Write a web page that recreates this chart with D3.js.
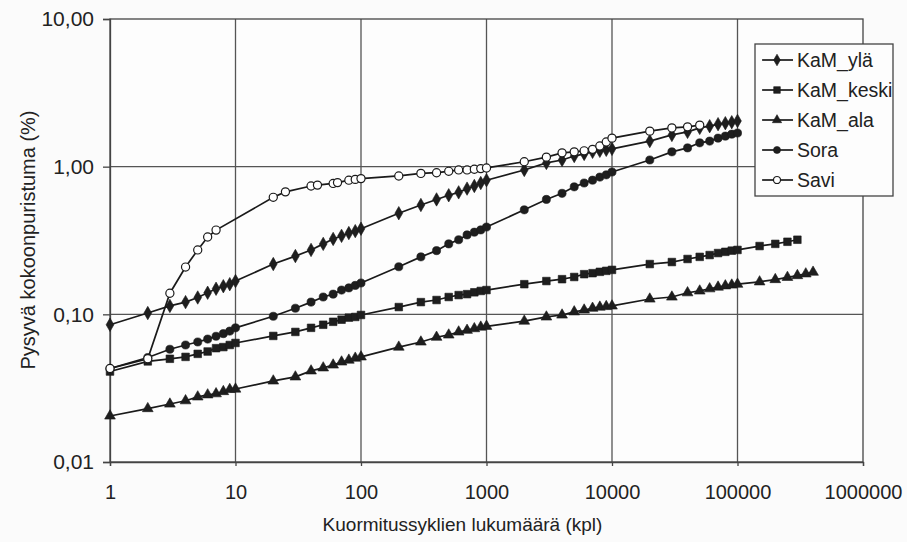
<!DOCTYPE html>
<html><head><meta charset="utf-8">
<script src="https://cdn.jsdelivr.net/npm/d3@7"></script>
<style>
html,body{margin:0;padding:0;background:#fbfbfb;}
text{font-family:"Liberation Sans",Arial,sans-serif;fill:#222;}
</style></head>
<body>
<svg id="chart" width="907" height="542"></svg>
<script>
// ---- data ----
const cyclesMain = [1,2,3,4,5,6,7,8,9,10,20,30,40,50,60,70,80,90,100,200,300,400,500,600,700,800,900,1000,2000,3000,4000,5000,6000,7000,8000,9000,10000,20000,30000,40000,50000,60000,70000,80000,90000,100000];
const cyclesKeski = cyclesMain.concat([150000,200000,250000,300000]);
const cyclesAla = cyclesMain.concat([150000,200000,250000,300000,350000,400000]);
const cyclesSavi = [1,2,3,4,5,6,7,20,25,40,45,60,65,80,90,100,200,300,400,500,600,700,800,900,1000,2000,3000,4000,5000,6000,7000,8000,9000,10000,20000,30000,40000,50000];

const kamYla = [0.085,0.102,0.114,0.121,0.130,0.140,0.149,0.155,0.160,0.168,0.219,0.248,0.273,0.300,0.324,0.340,0.355,0.366,0.380,0.484,0.550,0.600,0.640,0.670,0.710,0.740,0.775,0.810,0.95,1.06,1.11,1.18,1.22,1.26,1.28,1.30,1.32,1.49,1.64,1.72,1.83,1.88,1.94,1.97,2.00,2.04];
const kamKeski = [0.041,0.048,0.050,0.0515,0.054,0.056,0.059,0.060,0.062,0.064,0.0714,0.076,0.081,0.085,0.089,0.092,0.095,0.096,0.099,0.112,0.121,0.125,0.131,0.135,0.137,0.141,0.144,0.146,0.160,0.168,0.173,0.179,0.187,0.190,0.194,0.197,0.200,0.219,0.226,0.237,0.245,0.252,0.260,0.265,0.270,0.273,0.29,0.30,0.31,0.32];
const kamAla = [0.0205,0.023,0.0247,0.026,0.0276,0.0285,0.029,0.030,0.031,0.0312,0.0354,0.0377,0.0414,0.0434,0.0454,0.0476,0.049,0.0505,0.0515,0.060,0.065,0.070,0.0725,0.076,0.078,0.080,0.082,0.083,0.090,0.096,0.099,0.104,0.107,0.110,0.112,0.113,0.114,0.127,0.131,0.140,0.144,0.149,0.153,0.156,0.158,0.160,0.166,0.172,0.178,0.183,0.188,0.193];
const sora = [0.043,0.051,0.058,0.062,0.065,0.068,0.071,0.074,0.077,0.081,0.097,0.110,0.121,0.131,0.137,0.146,0.151,0.157,0.163,0.21,0.245,0.27,0.30,0.32,0.345,0.36,0.373,0.39,0.51,0.60,0.66,0.73,0.775,0.81,0.85,0.88,0.92,1.11,1.26,1.34,1.45,1.49,1.56,1.61,1.66,1.69];
const savi = [0.043,0.050,0.139,0.209,0.273,0.334,0.372,0.62,0.675,0.74,0.75,0.77,0.78,0.81,0.82,0.83,0.865,0.90,0.91,0.93,0.95,0.95,0.96,0.97,0.98,1.08,1.16,1.24,1.26,1.28,1.31,1.38,1.47,1.56,1.74,1.83,1.86,1.91];

const seriesNames = ["KaM_ylä","KaM_keski","KaM_ala","Sora","Savi"];
const xTicks = [1,10,100,1000,10000,100000,1000000];
const yTicks = [0.01,0.1,1,10];
const xTitle = "Kuormitussyklien lukumäärä (kpl)";
const yTitle = "Pysyvä kokoonpuristuma (%)";

// ---- chart ----
const series = [
  {name:seriesNames[0], x:cyclesMain, y:kamYla, sym:d3.symbolDiamond, size:52, fill:"#1e1e1e"},
  {name:seriesNames[1], x:cyclesKeski, y:kamKeski, sym:d3.symbolSquare, size:58, fill:"#1e1e1e"},
  {name:seriesNames[2], x:cyclesAla, y:kamAla, sym:d3.symbolTriangle, size:50, fill:"#1e1e1e"},
  {name:seriesNames[3], x:cyclesMain, y:sora, sym:d3.symbolCircle, size:52, fill:"#1e1e1e"},
  {name:seriesNames[4], x:cyclesSavi, y:savi, sym:d3.symbolCircle, size:52, fill:"#fff"}
];

const svg = d3.select("#chart");
const X0=110, X1=863, Y0=19, Y1=462;
const x = d3.scaleLog().domain([1,1e6]).range([X0,X1]);
const y = d3.scaleLog().domain([0.01,10]).range([Y1,Y0]);

svg.append("rect").attr("x",X0).attr("y",Y0).attr("width",X1-X0).attr("height",Y1-Y0).attr("fill","#fdfdfd");

// grid
svg.append("g").selectAll("line").data(xTicks.slice(1,-1)).join("line")
  .attr("x1",d=>x(d)).attr("x2",d=>x(d)).attr("y1",Y0).attr("y2",Y1)
  .attr("stroke","#555").attr("stroke-width",1.3);
svg.append("g").selectAll("line").data(yTicks.slice(1,-1)).join("line")
  .attr("y1",d=>y(d)).attr("y2",d=>y(d)).attr("x1",X0).attr("x2",X1)
  .attr("stroke","#555").attr("stroke-width",1.3);
svg.append("rect").attr("x",X0).attr("y",Y0).attr("width",X1-X0).attr("height",Y1-Y0)
  .attr("fill","none").attr("stroke","#444").attr("stroke-width",1.3);

// axes
const loc = d3.formatLocale({decimal:",",thousands:" ",grouping:[3],currency:["","€"]});
const yAxis = d3.axisLeft(y).tickValues(yTicks).tickSize(7).tickPadding(9).tickFormat(loc.format(".2f"));
const gy = svg.append("g").attr("transform",`translate(${X0},0)`).call(yAxis);
const xAxis = d3.axisBottom(x).tickValues(xTicks).tickSize(4).tickPadding(19).tickFormat(d3.format("d"));
const gx = svg.append("g").attr("transform",`translate(0,${Y1})`).call(xAxis);
[gx,gy].forEach(g=>{
  g.select(".domain").attr("stroke","#444").attr("stroke-width",1.3);
  g.selectAll(".tick line").attr("stroke","#444").attr("stroke-width",1.3);
  g.selectAll(".tick text").attr("fill","#222").style("font-family","'Liberation Sans',Arial,sans-serif");
});
gy.selectAll(".tick text").attr("font-size",21);
gx.selectAll(".tick text").attr("font-size",20);

svg.append("text").attr("x",(X0+X1)/2-24).attr("y",531).attr("text-anchor","middle")
  .attr("font-size",19).text(xTitle);
svg.append("text").attr("transform","translate(35,240) rotate(-90)").attr("text-anchor","middle")
  .attr("font-size",20).text(yTitle);

// series
const line = d3.line().x(d=>x(d[0])).y(d=>y(d[1]));
series.forEach(s=>{
  const pts = s.x.map((c,i)=>[c,s.y[i]]);
  svg.append("path").datum(pts).attr("d",line).attr("fill","none").attr("stroke","#1a1a1a").attr("stroke-width",1.7);
});
series.forEach(s=>{
  const pts = s.x.map((c,i)=>[c,s.y[i]]);
  svg.append("g").selectAll("path").data(pts).join("path")
    .attr("transform",d=>`translate(${x(d[0])},${y(d[1])})`)
    .attr("d",d3.symbol().type(s.sym).size(s.size))
    .attr("fill",s.fill).attr("stroke","#1a1a1a").attr("stroke-width",s.fill==="#fff"?1.2:0.6);
});

// legend
const lg = svg.append("g");
lg.append("rect").attr("x",755).attr("y",44).attr("width",138).attr("height",152)
  .attr("fill","#fdfdfd").attr("stroke","#444").attr("stroke-width",1.3);
series.forEach((s,i)=>{
  const cy = 60 + i*30;
  lg.append("line").attr("x1",762).attr("x2",793).attr("y1",cy).attr("y2",cy).attr("stroke","#1a1a1a").attr("stroke-width",1.7);
  lg.append("path").attr("transform",`translate(777,${cy})`).attr("d",d3.symbol().type(s.sym).size(s.size*0.75))
    .attr("fill",s.fill).attr("stroke","#1a1a1a").attr("stroke-width",s.fill==="#fff"?1.2:0.6);
  lg.append("text").attr("x",797).attr("y",cy+7).attr("font-size",19.5).text(s.name);
});
</script>
</body></html>
